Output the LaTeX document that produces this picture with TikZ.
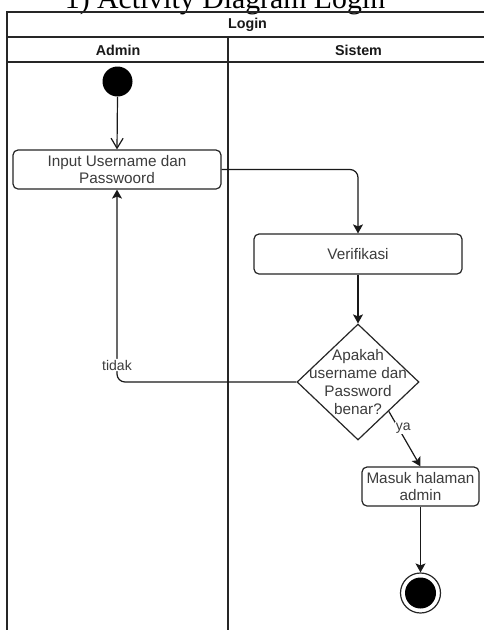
\documentclass[tikz,border=0pt]{standalone}
\usepackage{fontspec}
\setmainfont{Liberation Sans}
\newfontfamily\titlefont{Liberation Serif}
\usetikzlibrary{shapes.geometric,arrows.meta,calc}
\definecolor{txt}{HTML}{3C3C3C}
\begin{document}
\begin{tikzpicture}[x=1pt,y=-1pt,
  line width=1.2pt,
  lane/.style={draw=black!85, line width=1.4pt},
  act/.style={draw=black!85, rounded corners=5pt, inner sep=0pt, align=center, text=txt, font=\fontsize{15.3}{17.8}\selectfont},
  hdr/.style={font=\fontsize{14.3}{17}\selectfont\bfseries, text=black!90},
  flow/.style={draw=black!90, line width=1.2pt, -{Stealth[length=9pt,width=10pt,inset=2pt]}},
  openflow/.style={draw=black!90, line width=1.2pt, -{Straight Barb[length=10pt,width=12pt]}},
  lbl/.style={fill=white, inner sep=1pt, text=txt, font=\fontsize{14}{16}\selectfont}
]
\useasboundingbox (0,0) rectangle (484,630);
\clip (0,0) rectangle (484,630);
\fill[white] (0,0) rectangle (484,630);

% title (cut off at top)
\node[font=\titlefont\fontsize{29.8}{32}\selectfont, anchor=base, inner sep=0pt] (title) at (225,8) {1) Activity Diagram Login};

% pool and lanes
\draw[lane] (7,640) -- (7,12) -- (490,12);
\draw[lane] (7,37) -- (490,37);
\draw[lane] (7,62) -- (490,62);
\draw[lane] (228,37) -- (228,640);

\node[hdr] (login) at (247.5,25) {Login};
\node[hdr] (admin) at (118,50) {Admin};
\node[hdr] (sistem) at (358.5,50) {Sistem};

% nodes
\node[circle, fill=black, minimum size=30pt, inner sep=0pt] (start) at (117.5,81.5) {};
\node[act, minimum width=208pt, minimum height=39pt] (input) at (117,169.5) {Input Username dan\\Passwoord};
\node[act, minimum width=208pt, minimum height=40pt] (verif) at (358,254) {Verifikasi};
\node[diamond, draw=black!85, minimum width=122pt, minimum height=116pt, inner sep=0pt] (dec) at (358,382) {};
\node[align=center, text=txt, font=\fontsize{15.3}{18.3}\selectfont, inner sep=0pt] (dectext) at (dec.center) {Apakah\\username dan\\Password\\benar?};
\node[act, minimum width=117pt, minimum height=39pt] (masuk) at (420.5,486.5) {Masuk halaman\\admin};
\node[circle, draw=black!85, line width=1.2pt, minimum size=40pt, inner sep=0pt] (endo) at (420.5,593) {};
\node[circle, fill=black, minimum size=31pt, inner sep=0pt] (endi) at (endo.center) {};

% connectors
\draw[openflow] (start.south) -- (input.north);
\draw[flow, rounded corners=8pt] (input.east) -| (verif.north);
\draw[flow] (verif.south) -- (dec.north);
\draw[flow, rounded corners=8pt] (dec.west) -| node[lbl, pos=0.544] (tidak) {tidak} (input.south);
\draw[flow] ($(dec.east)!0.5!(dec.south)$) -- node[lbl, pos=0.3, xshift=5pt, inner sep=0.5pt] (ya) {ya} (masuk.north);
\draw[flow] (masuk.south) -- (endo.north);
\end{tikzpicture}
\end{document}
